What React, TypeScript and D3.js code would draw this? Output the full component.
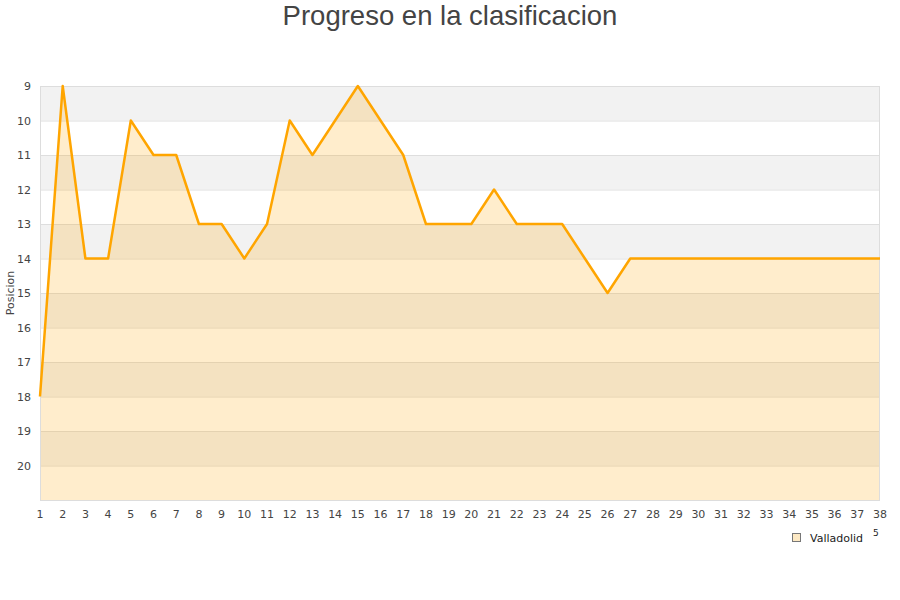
import { useEffect, useRef } from 'react';
import * as d3 from 'd3';

// jornadas 1..38 and the position reached after each one
const rounds = d3.range(1, 39);
const positions = [
  18, 9, 14, 14, 10, 11, 11, 13, 13, 14,
  13, 10, 11, 10, 9, 10, 11, 13, 13, 13,
  12, 13, 13, 13, 14, 15, 14, 14, 14, 14,
  14, 14, 14, 14, 14, 14, 14, 14,
];
const yTicks = d3.range(9, 21);
const bandStarts = d3.range(9, 21);
const teamName = 'Valladolid';
const chartTitle = 'Progreso en la clasificacion';
const yTitle = 'Posicion';

export default function App() {
  const ref = useRef<SVGSVGElement | null>(null);

  useEffect(() => {
    if (!ref.current) return;
    document.body.style.margin = '0';
    const svg = d3.select(ref.current);
    svg.selectAll('*').remove();

    const width = 900;
    const height = 600;
    const margin = { top: 86, right: 20, bottom: 100, left: 40 };
    const innerWidth = width - margin.left - margin.right;
    const innerHeight = height - margin.top - margin.bottom;

    const x = d3.scaleLinear().domain([1, 38]).range([0, innerWidth]);
    const y = d3.scaleLinear().domain([9, 21]).range([0, innerHeight]);

    svg.attr('width', width).attr('height', height).style('display', 'block');

    svg.append('text')
      .attr('x', width / 2)
      .attr('y', 25)
      .attr('text-anchor', 'middle')
      .attr('font-family', '"Liberation Sans", Arial, sans-serif')
      .attr('font-size', 27.5)
      .attr('fill', '#444')
      .text(chartTitle);

    const g = svg.append('g').attr('transform', `translate(${margin.left},${margin.top})`);

    // alternating bands
    g.selectAll('rect.band')
      .data(bandStarts)
      .enter()
      .append('rect')
      .attr('class', 'band')
      .attr('x', 0)
      .attr('y', d => y(d))
      .attr('width', innerWidth)
      .attr('height', d => y(d + 1) - y(d))
      .attr('fill', d => ((d - 9) % 2 === 0 ? '#f2f2f2' : '#ffffff'));

    // grid lines
    g.selectAll('line.grid')
      .data(d3.range(10, 21))
      .enter()
      .append('line')
      .attr('x1', 0)
      .attr('x2', innerWidth)
      .attr('y1', d => y(d) + 0.5)
      .attr('y2', d => y(d) + 0.5)
      .attr('stroke', '#dedede');

    const pts = rounds.map((r, i) => ({ r, p: positions[i] }));

    const area = d3.area<{ r: number; p: number }>()
      .x(d => x(d.r))
      .y0(y(21))
      .y1(d => y(d.p));

    g.append('path')
      .datum(pts)
      .attr('d', area)
      .attr('fill', 'rgba(255,165,0,0.2)');

    // frame
    g.append('rect')
      .attr('x', 0.5)
      .attr('y', 0.5)
      .attr('width', innerWidth - 1)
      .attr('height', innerHeight)
      .attr('fill', 'none')
      .attr('stroke', '#dddddd');

    const line = d3.line<{ r: number; p: number }>()
      .x(d => x(d.r))
      .y(d => y(d.p));

    g.append('path')
      .datum(pts)
      .attr('d', line)
      .attr('fill', 'none')
      .attr('stroke', '#ffa500')
      .attr('stroke-width', 2.5)
      .attr('stroke-linejoin', 'round');

    const tickFont = '"DejaVu Sans", Verdana, sans-serif';

    g.selectAll('text.ytick')
      .data(yTicks)
      .enter()
      .append('text')
      .attr('x', -9)
      .attr('y', d => y(d) + 4)
      .attr('text-anchor', 'end')
      .attr('font-family', tickFont)
      .attr('font-size', 11)
      .attr('fill', '#444')
      .text(d => d);

    g.selectAll('text.xtick')
      .data(rounds)
      .enter()
      .append('text')
      .attr('x', d => x(d))
      .attr('y', innerHeight + 18)
      .attr('text-anchor', 'middle')
      .attr('font-family', tickFont)
      .attr('font-size', 11)
      .attr('fill', '#444')
      .text(d => d);

    svg.append('text')
      .attr('transform', `translate(14,${margin.top + innerHeight / 2}) rotate(-90)`)
      .attr('text-anchor', 'middle')
      .attr('font-family', tickFont)
      .attr('font-size', 11)
      .attr('fill', '#444')
      .text(yTitle);

    // legend
    const lg = svg.append('g').attr('transform', 'translate(792,533)');
    lg.append('rect')
      .attr('x', 0.5)
      .attr('y', 0.5)
      .attr('width', 8)
      .attr('height', 8)
      .attr('fill', '#fde9c4')
      .attr('stroke', '#777');
    lg.append('text')
      .attr('x', 18)
      .attr('y', 8.5)
      .attr('font-family', tickFont)
      .attr('font-size', 11)
      .attr('fill', '#222')
      .text(teamName);

    // clipped remnant of the x axis title
    svg.append('text')
      .attr('x', 873)
      .attr('y', 536)
      .attr('font-family', tickFont)
      .attr('font-size', 9)
      .attr('fill', '#222')
      .text('5');
  }, []);

  return (
    <div>
      <svg ref={ref}></svg>
    </div>
  );
}
